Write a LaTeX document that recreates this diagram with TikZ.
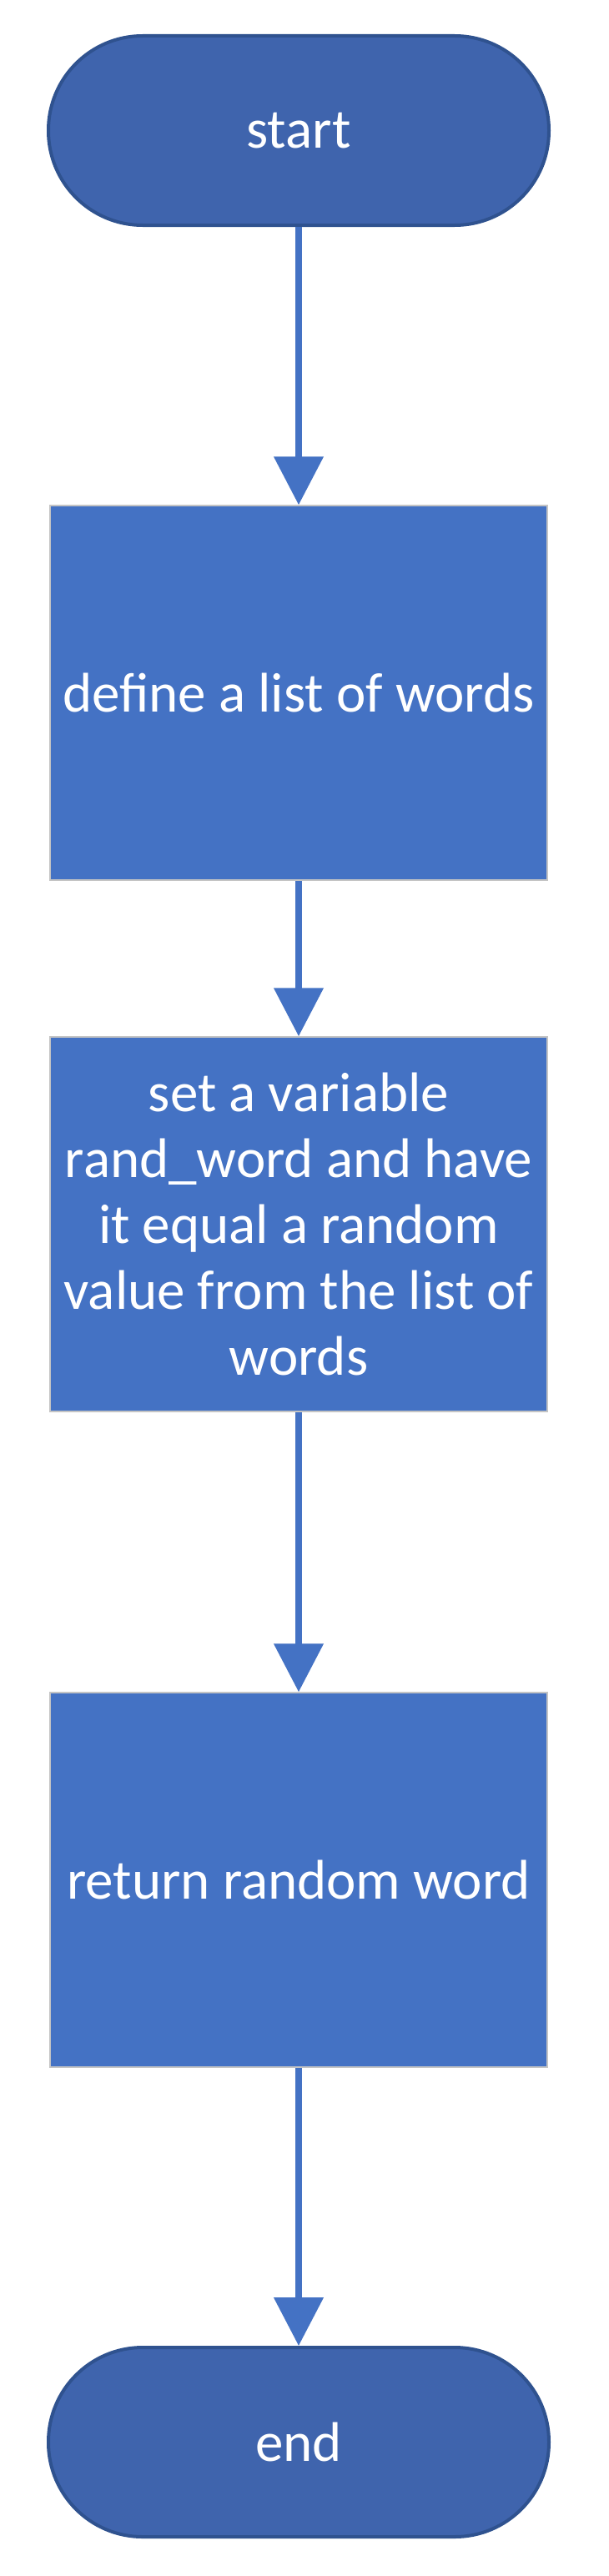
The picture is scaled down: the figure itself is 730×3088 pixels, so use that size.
\documentclass[tikz,border=0pt]{standalone}
\usepackage{fontspec}
\setmainfont{Carlito}
\usepackage{tikz}
\usetikzlibrary{arrows.meta}
\definecolor{termblue}{HTML}{3F64AD}
\definecolor{termedge}{HTML}{2F528F}
\definecolor{boxblue}{HTML}{4472C4}
\definecolor{boxedge}{HTML}{C4C4C4}

\tikzset{
  termnode/.style={draw=termedge,line width=4pt,fill=termblue,rounded corners=113pt,
    minimum width=600pt,minimum height=227pt,text=white,
    font=\fontsize{67pt}{79pt}\selectfont},
  procbox/.style={draw=boxedge,line width=1.5pt,fill=boxblue,
    minimum width=596pt,minimum height=449pt,text=white,align=center,
    font=\fontsize{67pt}{79pt}\selectfont},
  flowline/.style={draw=boxblue,line width=8pt,-{Triangle[length=58pt,width=58pt]}}
}

\begin{document}
\begin{tikzpicture}[x=1pt,y=1pt]
    \useasboundingbox[fill=white] (0,0) rectangle (730,-3088);

    \node[termnode] (start) at (358,-156.5) {start};
    \node[procbox] (define) at (358,-830.5) {define a list of words};
    \node[procbox] (pick) at (358,-1467.5)
      {set a variable\\ rand\_word and have\\ it equal a random\\ value from the list of\\ words};
    \node[procbox] (ret) at (358,-2253.5) {return random word};
    \node[termnode] (end) at (358,-2927.5) {end};

    \draw[flowline] (start) -- (define);
    \draw[flowline] (define) -- (pick);
    \draw[flowline] (pick) -- (ret);
    \draw[flowline] (ret) -- (end);
\end{tikzpicture}
\end{document}
